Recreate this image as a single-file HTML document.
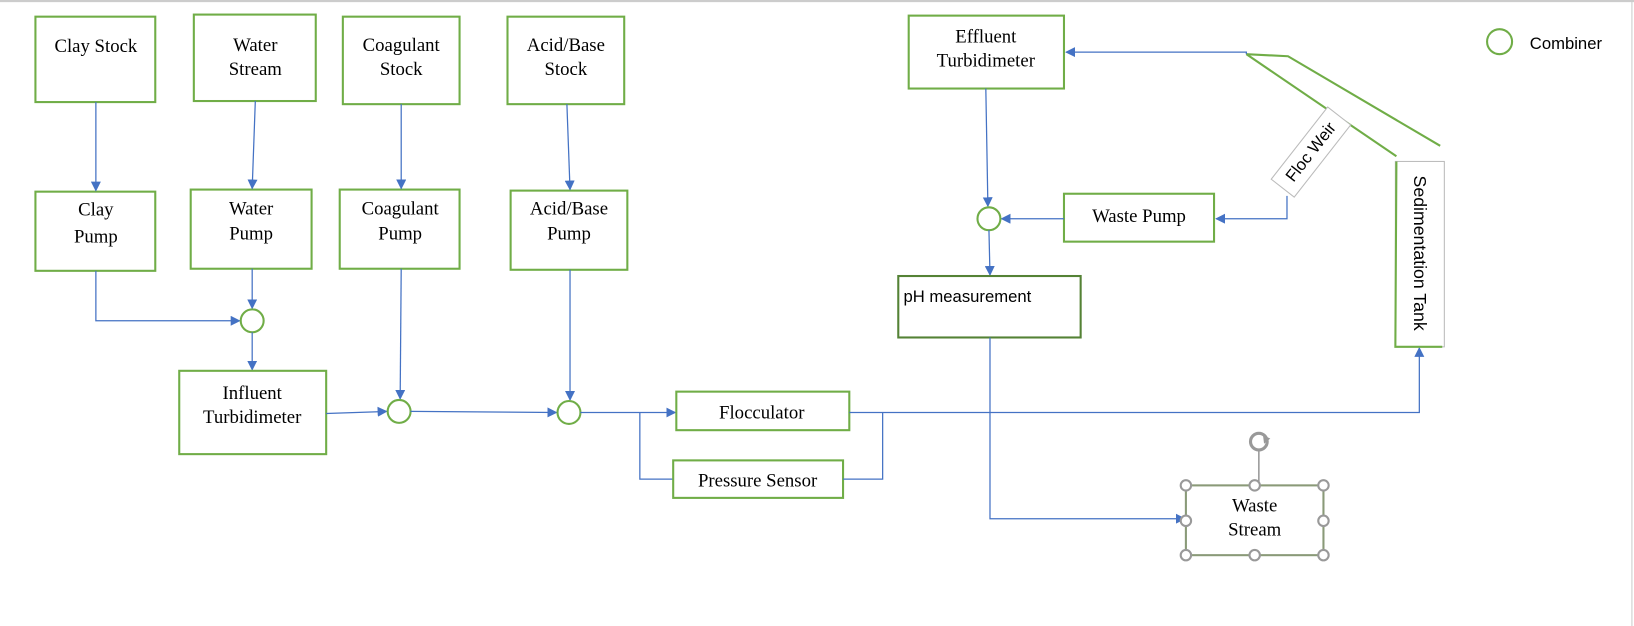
<!DOCTYPE html>
<html><head><style>
html,body{margin:0;padding:0;background:#fff;}
svg{display:block;}
.s{font-family:"Liberation Serif",serif;font-size:18px;fill:#000;text-anchor:middle;}
.a{font-family:"Liberation Sans",sans-serif;font-size:15px;fill:#000;}
.b{fill:none;stroke:#70ad47;stroke-width:2;}
.l{fill:none;stroke:#4472c4;stroke-width:1.2;}
.c{fill:#fff;stroke:#70ad47;stroke-width:2;}
.h{fill:#fff;stroke:#999;stroke-width:2;}
</style></head><body>
<svg width="1634" height="626" viewBox="0 0 1568 601" preserveAspectRatio="none" xmlns="http://www.w3.org/2000/svg">
<defs><marker id="m" viewBox="0 0 10 10" refX="9" refY="5" markerWidth="8" markerHeight="8" orient="auto"><path d="M0,0 L10,5 L0,10 z" fill="#4472c4"/></marker></defs>
<line x1="0" y1="1" x2="1568" y2="1" stroke="#ccc" stroke-width="2"/>
<line x1="1566" y1="0" x2="1566" y2="601" stroke="#ccc" stroke-width="1"/>

<rect class="b" x="34" y="16" width="115" height="82"/><text class="s" x="92" y="50">Clay Stock</text>
<rect class="b" x="186" y="14" width="117" height="83"/><text class="s" x="245" y="49">Water</text><text class="s" x="245" y="72">Stream</text>
<rect class="b" x="329" y="16" width="112" height="84"/><text class="s" x="385" y="49">Coagulant</text><text class="s" x="385" y="72">Stock</text>
<rect class="b" x="487" y="16" width="112" height="84"/><text class="s" x="543" y="49">Acid/Base</text><text class="s" x="543" y="72">Stock</text>
<rect class="b" x="34" y="184" width="115" height="76"/><text class="s" x="92" y="207">Clay</text><text class="s" x="92" y="233">Pump</text>
<rect class="b" x="183" y="182" width="116" height="76"/><text class="s" x="241" y="206">Water</text><text class="s" x="241" y="230">Pump</text>
<rect class="b" x="326" y="182" width="115" height="76"/><text class="s" x="384" y="206">Coagulant</text><text class="s" x="384" y="230">Pump</text>
<rect class="b" x="490" y="183" width="112" height="76"/><text class="s" x="546" y="206">Acid/Base</text><text class="s" x="546" y="230">Pump</text>

<line class="l" x1="92" y1="98" x2="92" y2="183" marker-end="url(#m)"/>
<line class="l" x1="245" y1="97" x2="242" y2="181" marker-end="url(#m)"/>
<line class="l" x1="385" y1="100" x2="385" y2="181" marker-end="url(#m)"/>
<line class="l" x1="544" y1="100" x2="547" y2="182" marker-end="url(#m)"/>

<polyline class="l" points="92,260 92,308 230,308" marker-end="url(#m)"/>
<line class="l" x1="242" y1="258" x2="242" y2="296" marker-end="url(#m)"/>
<circle class="c" cx="242" cy="308" r="11"/>
<line class="l" x1="242" y1="319" x2="242" y2="355" marker-end="url(#m)"/>
<rect class="b" x="172" y="356" width="141" height="80"/><text class="s" x="242" y="383">Influent</text><text class="s" x="242" y="406">Turbidimeter</text>

<line class="l" x1="313" y1="397" x2="371" y2="395" marker-end="url(#m)"/>
<line class="l" x1="385" y1="258" x2="384" y2="383" marker-end="url(#m)"/>
<circle class="c" cx="383" cy="395" r="11"/>
<line class="l" x1="394" y1="395" x2="534" y2="396" marker-end="url(#m)"/>
<line class="l" x1="547" y1="259" x2="547" y2="384" marker-end="url(#m)"/>
<circle class="c" cx="546" cy="396" r="11"/>
<line class="l" x1="557" y1="396" x2="648" y2="396" marker-end="url(#m)"/>

<rect class="b" x="649" y="376" width="166" height="37"/><text class="s" x="731" y="402">Flocculator</text>
<polyline class="l" points="614,396 614,460 646,460"/>
<rect class="b" x="646" y="442" width="163" height="36"/><text class="s" x="727" y="467">Pressure Sensor</text>
<polyline class="l" points="809,460 847,460 847,396"/>
<polyline class="l" points="815,396 1362,396 1362,334" marker-end="url(#m)"/>

<polyline fill="none" stroke="#70ad47" stroke-width="2" points="1196,52 1236,54 1382,140"/>
<line stroke="#70ad47" stroke-width="2" x1="1196" y1="52" x2="1340" y2="150"/>
<rect x="1339" y="155" width="47" height="178" fill="#fff" stroke="#bbb" stroke-width="1"/>
<polyline fill="none" stroke="#70ad47" stroke-width="2" points="1340,155 1339,333 1384,333"/>
<text class="a" transform="translate(1357,243) rotate(90)" text-anchor="middle" style="font-size:17px">Sedimentation Tank</text>

<polyline class="l" points="1196,52 1196,50 1023,50" marker-end="url(#m)"/>
<rect class="b" x="872" y="15" width="149" height="70"/><text class="s" x="946" y="41">Effluent</text><text class="s" x="946" y="64">Turbidimeter</text>

<g transform="translate(1258,146) rotate(-52)">
<rect x="-44" y="-14" width="88" height="28" fill="#fff" stroke="#bbb" stroke-width="1"/>
<text class="a" x="0" y="5" text-anchor="middle" style="font-size:16px">Floc Weir</text></g>
<polyline class="l" points="1235,188 1235,210 1167,210" marker-end="url(#m)"/>
<rect class="b" x="1021" y="186" width="144" height="46"/><text class="s" x="1093" y="213">Waste Pump</text>
<line class="l" x1="1021" y1="210" x2="961" y2="210" marker-end="url(#m)"/>
<line class="l" x1="946" y1="85" x2="948" y2="198" marker-end="url(#m)"/>
<circle class="c" cx="949" cy="210" r="11"/>
<line class="l" x1="949" y1="221" x2="950" y2="264" marker-end="url(#m)"/>
<rect class="b" x="862" y="265" width="175" height="59" style="stroke:#548235"/><text class="a" x="867" y="290" style="font-size:16px">pH measurement</text>
<polyline class="l" points="950,324 950,498 1137,498" marker-end="url(#m)"/>

<rect x="1138" y="466" width="132" height="67" fill="none" stroke="#8a9a78" stroke-width="2"/>
<text class="s" x="1204" y="491">Waste</text><text class="s" x="1204" y="514">Stream</text>
<line x1="1208" y1="433" x2="1208" y2="466" stroke="#999" stroke-width="1.5"/>
<circle cx="1208" cy="424" r="8" fill="none" stroke="#999" stroke-width="3"/>
<path d="M1212,418 l7,3 l-6,5 z" fill="#999"/>
<circle class="h" cx="1138" cy="466" r="5"/><circle class="h" cx="1204" cy="466" r="5"/><circle class="h" cx="1270" cy="466" r="5"/>
<circle class="h" cx="1138" cy="500" r="5"/><circle class="h" cx="1270" cy="500" r="5"/>
<circle class="h" cx="1138" cy="533" r="5"/><circle class="h" cx="1204" cy="533" r="5"/><circle class="h" cx="1270" cy="533" r="5"/>

<circle class="c" cx="1439" cy="40" r="12"/>
<text class="a" x="1468" y="47" style="font-size:16px">Combiner</text>
</svg>
</body></html>
